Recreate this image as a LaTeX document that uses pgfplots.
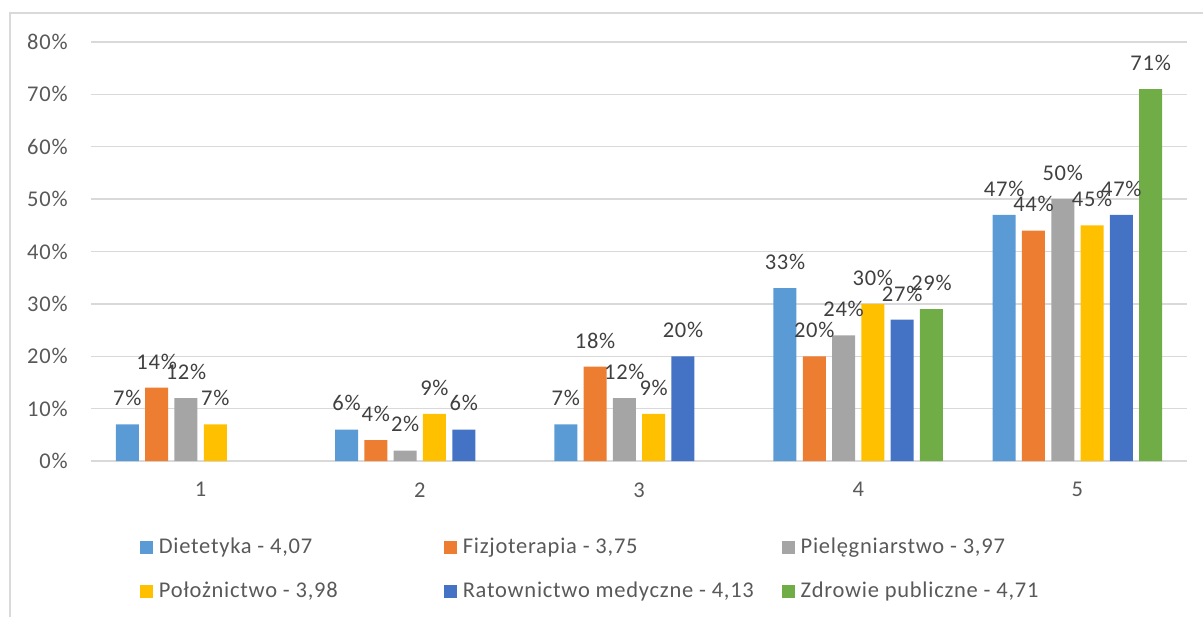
\documentclass[border=0pt]{standalone}
\usepackage{fontspec}
\setmainfont{Carlito}[LetterSpace=3.3]
\usepackage{pgfplots}
\pgfplotsset{compat=1.18}
\definecolor{cDiet}{HTML}{5B9BD5}
\definecolor{cFiz}{HTML}{ED7D31}
\definecolor{cPiel}{HTML}{A5A5A5}
\definecolor{cPol}{HTML}{FFC000}
\definecolor{cRat}{HTML}{4472C4}
\definecolor{cZdr}{HTML}{70AD47}
\definecolor{cGrid}{HTML}{D9D9D9}
\definecolor{cTick}{HTML}{595959}
\definecolor{cLab}{HTML}{404040}
\newcommand{\fs}{\fontsize{11.25}{13.5}\selectfont}
\begin{document}
\begin{tikzpicture}[font=\fs]
\useasboundingbox (0pt,0pt) rectangle (601.5pt,308.5pt);
\draw[cGrid, line width=0.7pt] (5pt,0pt) -- (5pt,302pt) -- (601.5pt,302pt);
\begin{axis}[
  at={(45.5pt,78pt)}, anchor=south west,
  scale only axis, width=548pt, height=209.5pt,
  xmin=0.5, xmax=5.5, ymin=0, ymax=80,
  xtick={1,2,3,4,5},
  ytick={0,10,20,30,40,50,60,70,80},
  yticklabel={\pgfmathprintnumber[assume math mode=true]{\tick}\%},
  xticklabel={\pgfmathprintnumber[assume math mode=true]{\tick}},
  yticklabel style={anchor=east, inner sep=0pt, xshift=-11.5pt, text=cTick, font=\fs},
  xticklabel style={anchor=north, inner sep=0pt, yshift=-10.5pt, text=cTick, font=\fs},
  tick style={draw=none}, major tick length=0pt,
  axis line style={draw=none},
  ymajorgrids, major grid style={cGrid, line width=0.65pt},
  ybar, bar width=11.5pt,
  nodes near coords={\pgfmathprintnumber[assume math mode=true]{\pgfplotspointmeta}\%},
  every node near coord/.append style={inner sep=0pt, yshift=9pt, text=cLab, font=\fs},
  legend columns=3,
  legend image code/.code={\fill[#1,draw=none] (0pt,-3.35pt) rectangle (6.7pt,3.35pt);},
  legend style={at={(0.0447,-0.1814)}, anchor=north west, draw=none, fill=none,
    column sep=0pt, row sep=11.5pt, inner sep=0pt, outer sep=0pt,
    nodes={inner sep=0pt, anchor=west, text=cTick, font=\fs, text height=8pt, text depth=2.5pt},
    /tikz/every odd column/.append style={column sep=2.75pt}},
]
\addplot[fill=cDiet, draw=none, bar shift=-36.625pt] coordinates {(1,7) (2,6) (3,7) (4,33) (5,47)};
\addlegendentry{\makebox[142.5pt][l]{Dietetyka - 4,07}}
\addplot[fill=cFiz, draw=none, bar shift=-21.975pt] coordinates {(1,14) (2,4) (3,18) (4,20) (5,44)};
\addlegendentry{\makebox[159.5pt][l]{Fizjoterapia - 3,75}}
\addplot[fill=cPiel, draw=none, bar shift=-7.325pt] coordinates {(1,12) (2,2) (3,12) (4,24) (5,50)};
\addlegendentry{Pielęgniarstwo - 3,97}
\addplot[fill=cPol, draw=none, bar shift=7.325pt] coordinates {(1,7) (2,9) (3,9) (4,30) (5,45)};
\addlegendentry{\makebox[142.5pt][l]{Położnictwo - 3,98}}
\addplot[fill=cRat, draw=none, bar shift=21.975pt] coordinates {(2,6) (3,20) (4,27) (5,47)};
\addlegendentry{\makebox[159.5pt][l]{Ratownictwo medyczne - 4,13}}
\addplot[fill=cZdr, draw=none, bar shift=36.625pt] coordinates {(4,29) (5,71)};
\addlegendentry{Zdrowie publiczne - 4,71}
\end{axis}
\end{tikzpicture}
\end{document}
